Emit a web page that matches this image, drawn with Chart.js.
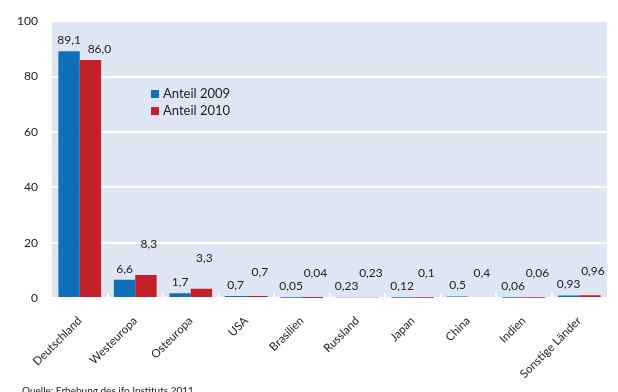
<!DOCTYPE html>
<html>
<head>
<meta charset="utf-8">
<script src="https://cdn.jsdelivr.net/npm/chart.js@4/dist/chart.umd.min.js"></script>
<style>
  html, body { margin: 0; padding: 0; background: #fff; }
  #wrap { position: relative; width: 618px; height: 392px; overflow: hidden; }
  #quelle { position: absolute; left: 22px; top: 384px; font: 10px Lato, "Open Sans", sans-serif; color: #222; white-space: nowrap; }
</style>
</head>
<body>
<div id="wrap">
  <canvas id="anteilChart" width="618" height="392"></canvas>
  <div id="quelle">Quelle: Erhebung des ifo Instituts 2011</div>
</div>
<script>
const regions = ["Deutschland", "Westeuropa", "Osteuropa", "USA", "Brasilien", "Russland", "Japan", "China", "Indien", "Sonstige Länder"];
const anteil2009 = [89.1, 6.6, 1.7, 0.7, 0.05, 0.23, 0.12, 0.5, 0.06, 0.93];
const anteil2010 = [86.0, 8.3, 3.3, 0.7, 0.04, 0.23, 0.1, 0.4, 0.06, 0.96];
const yTicks = [0, 20, 40, 60, 80, 100];

const fontFamily = "Lato, 'Open Sans', sans-serif";
const textColor = "#222";

// german decimal comma, keep the number of decimals given
const fmt = v => {
    let s = String(v);
    if (s.indexOf(".") < 0 && v >= 10) s = v.toFixed(1);
    return s.replace(".", ",");
};

// light blue plot background
const plotBackground = {
    id: "plotBackground",
    beforeDraw(chart) {
        const { ctx, chartArea: a } = chart;
        ctx.save();
        ctx.fillStyle = "#dfe6f3";
        ctx.fillRect(a.left, a.top, a.right - a.left, a.bottom - a.top);
        ctx.restore();
    }
};

// short white separators between the categories, on the base line
const categoryTicks = {
    id: "categoryTicks",
    afterDatasetsDraw(chart) {
        const { ctx, chartArea: a } = chart;
        const step = (a.right - a.left) / regions.length;
        ctx.save();
        ctx.strokeStyle = "#ffffff";
        ctx.lineWidth = 2;
        for (let i = 1; i < regions.length; i++) {
            const x = Math.round(a.left + step * i);
            ctx.beginPath();
            ctx.moveTo(x, a.bottom - 5);
            ctx.lineTo(x, a.bottom);
            ctx.stroke();
        }
        ctx.restore();
    }
};

// value labels above the bars; the 2010 labels of the small shares sit higher
const valueLabels = {
    id: "valueLabels",
    afterDatasetsDraw(chart) {
        const { ctx } = chart;
        ctx.save();
        ctx.font = "12px " + fontFamily;
        ctx.fillStyle = textColor;
        ctx.textAlign = "center";
        ctx.textBaseline = "middle";
        chart.data.datasets.forEach((ds, d) => {
            chart.getDatasetMeta(d).data.forEach((bar, i) => {
                let lift = 11;
                if (d === 1 && i > 0) lift = 24;
                if (d === 1 && (i === 1 || i === 2)) lift = 31;
                let dx = d === 1 ? 3 : 0;
                if (d === 1 && i === 0) dx = 9;
                ctx.fillText(fmt(ds.data[i]), bar.x + dx, Math.min(bar.y, chart.chartArea.bottom - 1) - lift);
            });
        });
        ctx.restore();
    }
};

// legend inside the plot area
const innerLegend = {
    id: "innerLegend",
    afterDraw(chart) {
        const { ctx } = chart;
        ctx.save();
        ctx.font = "13px " + fontFamily;
        ctx.textBaseline = "middle";
        chart.data.datasets.forEach((ds, d) => {
            const y = 94 + d * 17;
            ctx.fillStyle = ds.backgroundColor;
            ctx.fillRect(151, y - 4, 8, 8);
            ctx.fillStyle = textColor;
            ctx.fillText(ds.label, 163, y);
        });
        ctx.restore();
    }
};

const ctx = document.getElementById("anteilChart").getContext("2d");

const data = {
    labels: regions,
    datasets: [
        {
            label: "Anteil 2009",
            data: anteil2009,
            backgroundColor: "#0f6fb8",
            borderWidth: 0
        },
        {
            label: "Anteil 2010",
            data: anteil2010,
            backgroundColor: "#c3202a",
            borderWidth: 0
        }
    ]
};

const config = {
    type: "bar",
    data: data,
    options: {
        responsive: false,
        animation: false,
        events: [],
        layout: { padding: { left: 0, top: 21, right: 11, bottom: 0 } },
        datasets: {
            bar: { categoryPercentage: 0.77, barPercentage: 1.0 }
        },
        plugins: {
            legend: { display: false },
            tooltip: { enabled: false }
        },
        scales: {
            x: {
                grid: { display: false },
                border: { display: false },
                ticks: {
                    color: textColor,
                    font: { family: fontFamily, size: 11.5 },
                    minRotation: 45,
                    maxRotation: 45,
                    autoSkip: false,
                    padding: 8
                },
                afterFit(scale) { scale.height = 94; }
            },
            y: {
                min: 0,
                max: 100,
                afterBuildTicks(scale) { scale.ticks = yTicks.map(v => ({ value: v })); },
                grid: { color: "#ffffff", lineWidth: 2, drawTicks: false },
                border: { display: false },
                ticks: {
                    color: textColor,
                    font: { family: fontFamily, size: 12 },
                    padding: 14
                },
                afterFit(scale) { scale.width = 52; }
            }
        }
    },
    plugins: [plotBackground, categoryTicks, valueLabels, innerLegend]
};

const chart = new Chart(ctx, config);
</script>
</body>
</html>
